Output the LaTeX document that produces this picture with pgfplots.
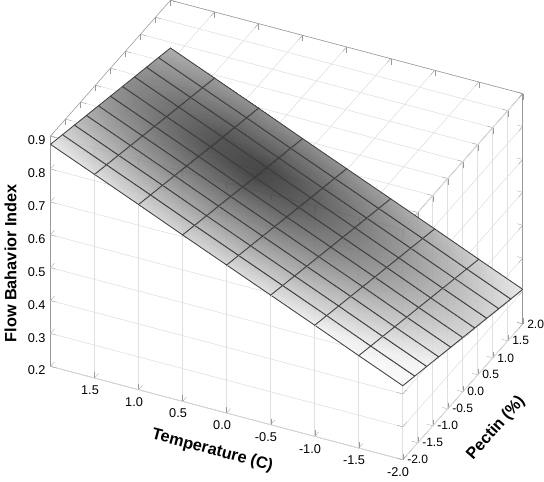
\documentclass[border=0pt]{standalone}
\usepackage{fontspec}
\setmainfont{Liberation Sans}
\usepackage{pgfplots}
\pgfplotsset{compat=1.18}
\usepgfplotslibrary{colormaps}
\begin{document}
\begin{tikzpicture}
\begin{axis}[
  x={(-62.25pt,16.5pt)}, y={(21.2pt,24pt)}, z={(0pt,232.5pt)},
  xmin=-2, xmax=2, ymin=-2, ymax=2, zmin=0.2, zmax=0.9,
  xtick={-2,-1.5,...,1.5}, ytick={-2,-1.5,...,2}, ztick={0.2,0.3,...,0.9},
  /pgf/number format/.cd, fixed, fixed zerofill, precision=1, assume math mode=true, /pgfplots/.cd,
  ticklabel style={font=\fontsize{9}{10}\selectfont},
  yticklabel style={anchor=west, inner sep=0pt, xshift=3pt, font=\fontsize{8.5}{9}\selectfont},
  grid=major, major grid style={gray!25},
  axis line style={gray!80}, tick style={gray!80},
  xlabel={\textbf{Temperature (C)}}, ylabel={\textbf{Pectin (\%)}}, zlabel={\textbf{Flow Bahavior Index}},
  label style={font=\fontsize{11.5}{12}\selectfont},
  xlabel style={sloped}, ylabel style={sloped, yshift=-16pt, inner sep=0pt},
  colormap={g}{gray(0cm)=(0.15); gray(1cm)=(0.55); gray(2cm)=(0.97)},
  point meta min=0, point meta max=3.2,
]
\addplot3[surf, shader=faceted interp, faceted color=black!75, line width=0.6pt, fill opacity=0.9,
  point meta={sqrt((x-0.6)^2+(y-0.6)^2)}] table[row sep=\\] {
x y z\\
-2 -2 0.425\\ -2 -1.6 0.413\\ -2 -1.2 0.401\\ -2 -0.8 0.389\\ -2 -0.4 0.377\\ -2 0 0.365\\ -2 0.4 0.353\\ -2 0.8 0.341\\ -2 1.2 0.329\\ -2 1.6 0.317\\ -2 2 0.305\\
\\
-1.5 -2 0.481\\ -1.5 -1.6 0.469\\ -1.5 -1.2 0.457\\ -1.5 -0.8 0.445\\ -1.5 -0.4 0.433\\ -1.5 0 0.421\\ -1.5 0.4 0.409\\ -1.5 0.8 0.397\\ -1.5 1.2 0.385\\ -1.5 1.6 0.373\\ -1.5 2 0.361\\
\\
-1 -2 0.538\\ -1 -1.6 0.526\\ -1 -1.2 0.514\\ -1 -0.8 0.502\\ -1 -0.4 0.490\\ -1 0 0.478\\ -1 0.4 0.466\\ -1 0.8 0.454\\ -1 1.2 0.442\\ -1 1.6 0.430\\ -1 2 0.418\\
\\
-0.5 -2 0.594\\ -0.5 -1.6 0.582\\ -0.5 -1.2 0.570\\ -0.5 -0.8 0.558\\ -0.5 -0.4 0.546\\ -0.5 0 0.534\\ -0.5 0.4 0.522\\ -0.5 0.8 0.510\\ -0.5 1.2 0.498\\ -0.5 1.6 0.486\\ -0.5 2 0.474\\
\\
0 -2 0.650\\ 0 -1.6 0.638\\ 0 -1.2 0.626\\ 0 -0.8 0.614\\ 0 -0.4 0.602\\ 0 0 0.590\\ 0 0.4 0.578\\ 0 0.8 0.566\\ 0 1.2 0.554\\ 0 1.6 0.542\\ 0 2 0.530\\
\\
0.5 -2 0.706\\ 0.5 -1.6 0.694\\ 0.5 -1.2 0.682\\ 0.5 -0.8 0.670\\ 0.5 -0.4 0.658\\ 0.5 0 0.646\\ 0.5 0.4 0.634\\ 0.5 0.8 0.622\\ 0.5 1.2 0.610\\ 0.5 1.6 0.598\\ 0.5 2 0.586\\
\\
1 -2 0.763\\ 1 -1.6 0.751\\ 1 -1.2 0.739\\ 1 -0.8 0.727\\ 1 -0.4 0.715\\ 1 0 0.703\\ 1 0.4 0.691\\ 1 0.8 0.679\\ 1 1.2 0.667\\ 1 1.6 0.655\\ 1 2 0.643\\
\\
1.5 -2 0.819\\ 1.5 -1.6 0.807\\ 1.5 -1.2 0.795\\ 1.5 -0.8 0.783\\ 1.5 -0.4 0.771\\ 1.5 0 0.759\\ 1.5 0.4 0.747\\ 1.5 0.8 0.735\\ 1.5 1.2 0.723\\ 1.5 1.6 0.711\\ 1.5 2 0.699\\
\\
2 -2 0.875\\ 2 -1.6 0.863\\ 2 -1.2 0.851\\ 2 -0.8 0.839\\ 2 -0.4 0.827\\ 2 0 0.815\\ 2 0.4 0.803\\ 2 0.8 0.791\\ 2 1.2 0.779\\ 2 1.6 0.767\\ 2 2 0.755\\
};
\end{axis}
\end{tikzpicture}
\end{document}
